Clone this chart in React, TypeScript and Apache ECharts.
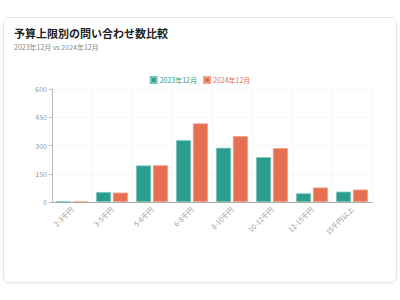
import React, { useEffect, useRef } from "react";
import * as echarts from "echarts";

const categories = ["2-3千円", "3-5千円", "5-6千円", "6-8千円", "8-10千円", "10-12千円", "12-15千円", "15千円以上"];
const series2023 = [2, 53, 194, 328, 288, 238, 46, 55];
const series2024 = [1, 50, 195, 417, 350, 286, 77, 66];
const seriesNames = ["2023年12月", "2024年12月"];
const yTicks = { min: 0, max: 600, interval: 150 };

export default function App() {
  const ref = useRef<HTMLDivElement>(null);
  useEffect(() => {
    const chart = echarts.init(ref.current!, null, { renderer: "svg" });
    const font = "'Noto Sans CJK JP', 'Noto Sans', sans-serif";
    chart.setOption({
      animation: false,
      textStyle: { fontFamily: font },
      title: {
        text: "予算上限別の問い合わせ数比較",
        subtext: "2023年12月 vs 2024年12月",
        left: 9,
        top: 22,
        itemGap: 6,
        textStyle: { fontSize: 11, fontWeight: "bold", color: "#222", fontFamily: font },
        subtextStyle: { fontSize: 7, color: "#888", fontFamily: font },
      },
      legend: {
        top: 71,
        left: "center",
        itemWidth: 6,
        itemHeight: 6,
        itemGap: 6,
        icon: "rect",
        textStyle: { fontSize: 7, fontFamily: font, padding: [0, 0, 0, -2] },
        data: [
          { name: seriesNames[0], textStyle: { color: "#2a9d8f" } },
          { name: seriesNames[1], textStyle: { color: "#e76f51" } },
        ],
      },
      grid: { left: 52, right: 28, top: 89, bottom: 98 },
      xAxis: {
        type: "category",
        data: categories,
        axisLine: { lineStyle: { color: "#aaa" } },
        axisTick: { show: false },
        axisLabel: { rotate: 45, fontSize: 7, color: "#999", margin: 6 },
        splitLine: { show: true, lineStyle: { color: "#eee", type: "dotted" } },
      },
      yAxis: {
        type: "value",
        min: yTicks.min,
        max: yTicks.max,
        interval: yTicks.interval,
        axisLine: { show: true, lineStyle: { color: "#bbb" } },
        axisTick: { show: true, length: 3, lineStyle: { color: "#bbb" } },
        axisLabel: { fontSize: 7, color: "#999", margin: 5 },
        splitLine: { lineStyle: { color: "#eee", type: "dotted" } },
      },
      series: [
        {
          name: seriesNames[0],
          type: "bar",
          data: series2023,
          barGap: "12%",
          barCategoryGap: "20%",
          itemStyle: { color: "#2a9d8f", borderColor: "#7cc4ba", borderWidth: 0.8 },
        },
        {
          name: seriesNames[1],
          type: "bar",
          data: series2024,
          itemStyle: { color: "#e76f51", borderColor: "#f0a08c", borderWidth: 0.8 },
        },
      ],
    });
    return () => chart.dispose();
  }, []);
  return (
    <div style={{ position: "fixed", left: 0, top: 0, width: 400, height: 300, background: "#fff" }}>
      <div
        style={{
          position: "absolute",
          left: 3,
          top: 17,
          width: 392,
          height: 264,
          border: "1px solid #e6e6e6",
          borderRadius: 6,
          boxShadow: "0 1px 2px rgba(0,0,0,0.05)",
          background: "#fff",
        }}
      />
      <div ref={ref} style={{ position: "absolute", left: 0, top: 0, width: 400, height: 300 }} />
    </div>
  );
}
